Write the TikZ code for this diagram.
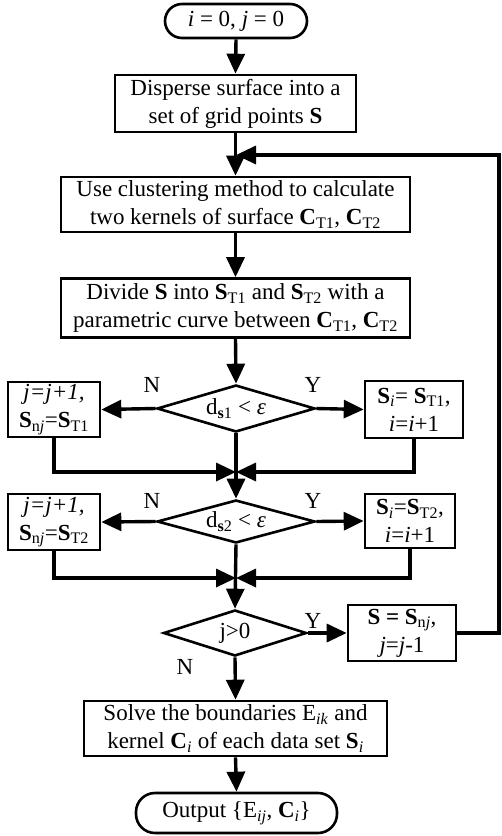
\documentclass[tikz,border=0pt]{standalone}
\usepackage{fontspec}
\setmainfont{Liberation Serif}
\usetikzlibrary{arrows.meta,shapes.geometric}
\begin{document}
\begin{tikzpicture}[x=1pt,y=-1pt,
  txt/.style={font=\fontsize{23}{28}\selectfont},
  box/.style={txt, draw, line width=2.6pt, align=center, inner sep=0pt},
  term/.style={box, rounded corners=17pt},
  dia/.style={txt, draw, diamond, line width=2.6pt, inner sep=0pt, aspect=3.3},
  conn/.style={line width=3.4pt},
  arr/.style={conn, -{Triangle[length=20pt,width=18pt]}},
  lab/.style={txt, inner sep=0pt}]
\useasboundingbox (0,0) rectangle (502,836);
% nodes
\node[term, minimum width=142pt, minimum height=34pt] (start) at (236,21) {\textit{i} = 0, \textit{j} = 0};
\node[box, minimum width=241pt, minimum height=57pt] (b1) at (235.5,103.5) {Disperse surface into a\\set of grid points \textbf{S}};
\node[box, minimum width=349pt, minimum height=55pt] (b2) at (235.5,204.5) {Use clustering method to calculate\\two kernels of surface \textbf{C}\textsubscript{T1}, \textbf{C}\textsubscript{T2}};
\node[box, minimum width=349pt, minimum height=59pt] (b3) at (235.5,308) {Divide \textbf{S} into \textbf{S}\textsubscript{T1} and \textbf{S}\textsubscript{T2} with a\\parametric curve between \textbf{C}\textsubscript{T1}, \textbf{C}\textsubscript{T2}};
\node[dia, minimum width=158pt, minimum height=47pt] (d1) at (236,408.5) {d\textsubscript{\textbf{s}1} < \textit{ε}};
\node[box, minimum width=92pt, minimum height=55pt] (L1) at (54,409.5) {\textit{j=j+1,}\\\textbf{S}\textsubscript{n\textit{j}}=\textbf{S}\textsubscript{T1}};
\node[box, minimum width=98pt, minimum height=57pt] (R1) at (414,409.5) {\textbf{S}\textsubscript{\textit{i}}= \textbf{S}\textsubscript{T1},\\\textit{i}=\textit{i}+1};
\node[dia, minimum width=158pt, minimum height=43pt] (d2) at (236,521.5) {d\textsubscript{\textbf{s}2} < \textit{ε}};
\node[box, minimum width=92pt, minimum height=56pt] (L2) at (54,522) {\textit{j=j+1,}\\\textbf{S}\textsubscript{n\textit{j}}=\textbf{S}\textsubscript{T2}};
\node[box, minimum width=90pt, minimum height=54pt] (R2) at (410,521) {\textbf{S}\textsubscript{\textit{i}}=\textbf{S}\textsubscript{T2},\\\textit{i}=\textit{i}+1};
\node[dia, minimum width=143pt, minimum height=46pt] (d3) at (235,633) {j>0};
\node[box, minimum width=108pt, minimum height=56pt] (R3) at (402,633) {\textbf{S = S}\textsubscript{n\textit{j}},\\\textit{j}=\textit{j}-1};
\node[box, minimum width=303pt, minimum height=55pt] (b4) at (235.5,728.5) {Solve the boundaries E\textsubscript{\textit{ik}} and\\kernel \textbf{C}\textsubscript{\textit{i}} of each data set \textbf{S}\textsubscript{\textit{i}}};
\node[term, rounded corners=19pt, minimum width=201pt, minimum height=40pt] (end) at (236.5,813) {Output \{E\textsubscript{\textit{ij}}, \textbf{C}\textsubscript{\textit{i}}\}};
% labels
\node[lab] (n1) at (152,385) {N};
\node[lab] (y1) at (313,385) {Y};
\node[lab] (n2) at (152,501) {N};
\node[lab] (y2) at (313,501) {Y};
\node[lab] (y3) at (313,621) {Y};
\node[lab] (n3) at (185,667) {N};
% coordinates
\coordinate (m1) at (236,472);
\coordinate (m2) at (236,578);
\coordinate (fbt) at (236,155);
\coordinate (fbr) at (499,155);
% connectors
\draw[arr] (start.south) -- (b1.north);
\draw[arr] (b1.south) -- (b2.north);
\draw[arr] (b2.south) -- (b3.north);
\draw[arr] (b3.south) -- (d1.north);
\draw[arr] (d1.west) -- (L1.east);
\draw[arr] (d1.east) -- (R1.west);
\draw[arr] (d1.south) -- (d2.north);
\draw[arr] (L1.south) |- (m1);
\draw[arr] (R1.south) |- (m1);
\draw[arr] (d2.west) -- (L2.east);
\draw[arr] (d2.east) -- (R2.west);
\draw[arr] (d2.south) -- (d3.north);
\draw[arr] (L2.south) |- (m2);
\draw[arr] (R2.south) |- (m2);
\draw[arr] (d3.east) -- (R3.west);
\draw[arr] (d3.south) -- (b4.north);
\draw[arr] (b4.south) -- (end.north);
\draw[arr] (R3.east) -| (fbr) -- (fbt);
\end{tikzpicture}
\end{document}
